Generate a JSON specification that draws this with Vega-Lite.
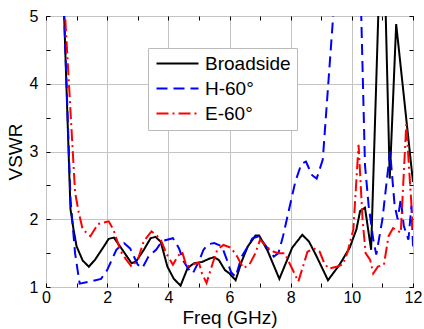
{
  "$schema": "https://vega.github.io/schema/vega-lite/v6.json",
  "width": 367,
  "height": 271,
  "autosize": {"type": "none"},
  "padding": {"left": 46, "top": 16, "right": 11, "bottom": 42},
  "background": "white",
  "config": {
    "view": {"stroke": "#000000", "strokeWidth": 1},
    "font": "Liberation Sans",
    "axis": {"labelFont": "Liberation Sans", "titleFont": "Liberation Sans", "labelColor": "#000", "titleColor": "#000", "titleFontWeight": "normal", "domain": false, "tickColor": "#000"},
    "legend": {"labelFont": "Liberation Sans"}
  },
  "data": {"values": [
    {"s":"Broadside","f":0.55,"v":5.6},{"s":"Broadside","f":0.8,"v":2.15},{"s":"Broadside","f":0.9,"v":1.85},{"s":"Broadside","f":1.0,"v":1.6},{"s":"Broadside","f":1.2,"v":1.39},{"s":"Broadside","f":1.4,"v":1.3},{"s":"Broadside","f":1.6,"v":1.4},{"s":"Broadside","f":1.85,"v":1.57},{"s":"Broadside","f":2.05,"v":1.71},{"s":"Broadside","f":2.22,"v":1.73},{"s":"Broadside","f":2.45,"v":1.58},{"s":"Broadside","f":2.8,"v":1.35},{"s":"Broadside","f":2.95,"v":1.38},{"s":"Broadside","f":3.2,"v":1.55},{"s":"Broadside","f":3.42,"v":1.72},{"s":"Broadside","f":3.58,"v":1.74},{"s":"Broadside","f":3.75,"v":1.67},{"s":"Broadside","f":3.97,"v":1.3},{"s":"Broadside","f":4.18,"v":1.12},{"s":"Broadside","f":4.4,"v":1.02},{"s":"Broadside","f":4.63,"v":1.28},{"s":"Broadside","f":4.84,"v":1.35},{"s":"Broadside","f":5.1,"v":1.37},{"s":"Broadside","f":5.35,"v":1.42},{"s":"Broadside","f":5.5,"v":1.44},{"s":"Broadside","f":5.65,"v":1.4},{"s":"Broadside","f":5.85,"v":1.25},{"s":"Broadside","f":6.0,"v":1.2},{"s":"Broadside","f":6.2,"v":1.1},{"s":"Broadside","f":6.4,"v":1.38},{"s":"Broadside","f":6.6,"v":1.6},{"s":"Broadside","f":6.85,"v":1.76},{"s":"Broadside","f":6.97,"v":1.76},{"s":"Broadside","f":7.25,"v":1.53},{"s":"Broadside","f":7.63,"v":1.12},{"s":"Broadside","f":8.05,"v":1.58},{"s":"Broadside","f":8.38,"v":1.77},{"s":"Broadside","f":8.6,"v":1.67},{"s":"Broadside","f":8.85,"v":1.45},{"s":"Broadside","f":9.22,"v":1.1},{"s":"Broadside","f":9.6,"v":1.33},{"s":"Broadside","f":9.93,"v":1.58},{"s":"Broadside","f":10.15,"v":1.85},{"s":"Broadside","f":10.27,"v":2.12},{"s":"Broadside","f":10.43,"v":2.17},{"s":"Broadside","f":10.63,"v":1.55},{"s":"Broadside","f":11.0,"v":7.0},{"s":"Broadside","f":11.24,"v":2.6},{"s":"Broadside","f":11.45,"v":4.88},{"s":"Broadside","f":12.0,"v":2.55},
    {"s":"H-60°","f":0.55,"v":5.6},{"s":"H-60°","f":0.8,"v":2.3},{"s":"H-60°","f":0.95,"v":1.5},{"s":"H-60°","f":1.1,"v":1.05},{"s":"H-60°","f":1.45,"v":1.08},{"s":"H-60°","f":1.8,"v":1.12},{"s":"H-60°","f":2.0,"v":1.25},{"s":"H-60°","f":2.3,"v":1.55},{"s":"H-60°","f":2.55,"v":1.65},{"s":"H-60°","f":2.75,"v":1.57},{"s":"H-60°","f":3.0,"v":1.33},{"s":"H-60°","f":3.15,"v":1.28},{"s":"H-60°","f":3.35,"v":1.45},{"s":"H-60°","f":3.6,"v":1.55},{"s":"H-60°","f":3.8,"v":1.68},{"s":"H-60°","f":4.15,"v":1.72},{"s":"H-60°","f":4.35,"v":1.57},{"s":"H-60°","f":4.5,"v":1.38},{"s":"H-60°","f":4.65,"v":1.27},{"s":"H-60°","f":4.8,"v":1.2},{"s":"H-60°","f":5.0,"v":1.38},{"s":"H-60°","f":5.15,"v":1.55},{"s":"H-60°","f":5.3,"v":1.63},{"s":"H-60°","f":5.5,"v":1.65},{"s":"H-60°","f":5.75,"v":1.6},{"s":"H-60°","f":5.9,"v":1.42},{"s":"H-60°","f":6.05,"v":1.22},{"s":"H-60°","f":6.2,"v":1.15},{"s":"H-60°","f":6.4,"v":1.45},{"s":"H-60°","f":6.6,"v":1.6},{"s":"H-60°","f":6.75,"v":1.72},{"s":"H-60°","f":6.95,"v":1.75},{"s":"H-60°","f":7.2,"v":1.6},{"s":"H-60°","f":7.45,"v":1.45},{"s":"H-60°","f":7.6,"v":1.5},{"s":"H-60°","f":7.75,"v":1.75},{"s":"H-60°","f":7.95,"v":2.15},{"s":"H-60°","f":8.15,"v":2.55},{"s":"H-60°","f":8.35,"v":2.82},{"s":"H-60°","f":8.5,"v":2.85},{"s":"H-60°","f":8.7,"v":2.65},{"s":"H-60°","f":8.85,"v":2.6},{"s":"H-60°","f":9.05,"v":2.88},{"s":"H-60°","f":9.39,"v":5.0},{"s":"H-60°","f":10.07,"v":9.3},{"s":"H-60°","f":10.43,"v":2.8},{"s":"H-60°","f":10.55,"v":2.2},{"s":"H-60°","f":10.7,"v":1.7},{"s":"H-60°","f":10.8,"v":1.48},{"s":"H-60°","f":11.0,"v":2.0},{"s":"H-60°","f":11.15,"v":2.6},{"s":"H-60°","f":11.25,"v":3.0},{"s":"H-60°","f":11.4,"v":2.2},{"s":"H-60°","f":11.5,"v":2.0},{"s":"H-60°","f":11.6,"v":2.3},{"s":"H-60°","f":11.7,"v":1.9},{"s":"H-60°","f":11.85,"v":1.7},{"s":"H-60°","f":11.95,"v":2.2},{"s":"H-60°","f":12.0,"v":1.6},
    {"s":"E-60°","f":0.55,"v":5.6},{"s":"E-60°","f":0.95,"v":2.4},{"s":"E-60°","f":1.07,"v":2.1},{"s":"E-60°","f":1.2,"v":1.85},{"s":"E-60°","f":1.45,"v":1.75},{"s":"E-60°","f":1.7,"v":1.93},{"s":"E-60°","f":2.05,"v":1.97},{"s":"E-60°","f":2.2,"v":1.85},{"s":"E-60°","f":2.45,"v":1.52},{"s":"E-60°","f":2.6,"v":1.42},{"s":"E-60°","f":2.8,"v":1.3},{"s":"E-60°","f":3.0,"v":1.4},{"s":"E-60°","f":3.2,"v":1.68},{"s":"E-60°","f":3.45,"v":1.82},{"s":"E-60°","f":3.6,"v":1.77},{"s":"E-60°","f":3.75,"v":1.7},{"s":"E-60°","f":3.95,"v":1.48},{"s":"E-60°","f":4.15,"v":1.33},{"s":"E-60°","f":4.3,"v":1.45},{"s":"E-60°","f":4.45,"v":1.52},{"s":"E-60°","f":4.6,"v":1.3},{"s":"E-60°","f":4.75,"v":1.33},{"s":"E-60°","f":5.0,"v":1.36},{"s":"E-60°","f":5.1,"v":1.2},{"s":"E-60°","f":5.25,"v":1.06},{"s":"E-60°","f":5.45,"v":1.35},{"s":"E-60°","f":5.6,"v":1.55},{"s":"E-60°","f":5.8,"v":1.62},{"s":"E-60°","f":6.05,"v":1.58},{"s":"E-60°","f":6.25,"v":1.45},{"s":"E-60°","f":6.45,"v":1.28},{"s":"E-60°","f":6.65,"v":1.33},{"s":"E-60°","f":6.85,"v":1.5},{"s":"E-60°","f":7.0,"v":1.7},{"s":"E-60°","f":7.25,"v":1.58},{"s":"E-60°","f":7.45,"v":1.52},{"s":"E-60°","f":7.6,"v":1.5},{"s":"E-60°","f":7.8,"v":1.5},{"s":"E-60°","f":8.07,"v":1.25},{"s":"E-60°","f":8.25,"v":1.08},{"s":"E-60°","f":8.4,"v":1.3},{"s":"E-60°","f":8.55,"v":1.52},{"s":"E-60°","f":8.75,"v":1.57},{"s":"E-60°","f":8.95,"v":1.52},{"s":"E-60°","f":9.1,"v":1.35},{"s":"E-60°","f":9.25,"v":1.27},{"s":"E-60°","f":9.5,"v":1.3},{"s":"E-60°","f":9.7,"v":1.33},{"s":"E-60°","f":9.85,"v":1.5},{"s":"E-60°","f":10.05,"v":1.85},{"s":"E-60°","f":10.22,"v":3.1},{"s":"E-60°","f":10.35,"v":2.0},{"s":"E-60°","f":10.45,"v":1.5},{"s":"E-60°","f":10.6,"v":1.4},{"s":"E-60°","f":10.7,"v":1.2},{"s":"E-60°","f":10.85,"v":1.3},{"s":"E-60°","f":11.05,"v":1.33},{"s":"E-60°","f":11.2,"v":1.75},{"s":"E-60°","f":11.35,"v":1.87},{"s":"E-60°","f":11.6,"v":1.8},{"s":"E-60°","f":11.78,"v":3.4},{"s":"E-60°","f":11.95,"v":2.2},{"s":"E-60°","f":12.0,"v":1.85}
  ]},
  "resolve": {"axis": {"x": "independent", "y": "independent"}},
  "layer": [
    {
      "mark": {"type": "line", "clip": true, "strokeWidth": 2},
      "encoding": {
        "x": {"field": "f", "type": "quantitative", "scale": {"domain": [0, 12], "nice": false, "zero": false},
          "axis": {"orient": "bottom", "title": "Freq (GHz)", "titleFontSize": 19, "titlePadding": 3, "values": [0,1,2,3,4,5,6,7,8,9,10,11,12], "labelExpr": "datum.value % 2 == 0 ? datum.label : ''", "labelFontSize": 16, "labelPadding": 6, "tickSize": -4, "labelFlush": false, "grid": true, "gridColor": "#c4c4c4", "gridOpacity": {"condition": {"test": "datum.value % 2 == 0", "value": 1}, "value": 0}}},
        "y": {"field": "v", "type": "quantitative", "scale": {"domain": [1, 5], "nice": false, "zero": false},
          "axis": {"orient": "left", "title": "VSWR", "titleFontSize": 19, "titlePadding": 4, "values": [1,1.5,2,2.5,3,3.5,4,4.5,5], "labelExpr": "datum.value % 1 == 0 ? format(datum.value, 'd') : ''", "labelFontSize": 16, "labelPadding": 12, "tickSize": -4, "labelFlush": false, "grid": true, "gridColor": "#c4c4c4", "gridOpacity": {"condition": {"test": "datum.value % 1 == 0", "value": 1}, "value": 0}}},
        "color": {"field": "s", "type": "nominal", "title": null,
          "scale": {"domain": ["Broadside", "H-60°", "E-60°"], "range": ["#000000", "#0000ff", "#ff0000"]},
          "legend": {"orient": "none", "legendX": 102, "legendY": 32, "symbolType": "M-1,0H5", "symbolSize": 196, "symbolStrokeWidth": 2, "labelFontSize": 19, "labelOffset": 32, "rowPadding": 5, "padding": 6, "strokeColor": "#bbbbbb", "fillColor": "#ffffff", "labelLimit": 200}},
        "strokeDash": {"field": "s", "type": "nominal", "title": null,
          "scale": {"domain": ["Broadside", "H-60°", "E-60°"], "range": [[1, 0], [11, 6], [12, 4, 2, 4]]},
          "legend": {"orient": "none", "legendX": 102, "legendY": 32, "symbolType": "M-1,0H5", "symbolSize": 196, "symbolStrokeWidth": 2, "labelFontSize": 19, "labelOffset": 32, "rowPadding": 5, "padding": 6, "strokeColor": "#bbbbbb", "fillColor": "#ffffff", "labelLimit": 200}}
      }
    },
    {
      "mark": {"type": "line", "strokeOpacity": 0, "clip": true},
      "encoding": {
        "x": {"field": "f", "type": "quantitative", "scale": {"domain": [0, 12], "nice": false, "zero": false},
          "axis": {"orient": "top", "title": null, "labels": false, "grid": false, "values": [0,1,2,3,4,5,6,7,8,9,10,11,12], "tickSize": -4}},
        "y": {"field": "v", "type": "quantitative", "scale": {"domain": [1, 5], "nice": false, "zero": false},
          "axis": {"orient": "right", "title": null, "labels": false, "grid": false, "values": [1,1.5,2,2.5,3,3.5,4,4.5,5], "tickSize": -4}},
        "detail": {"field": "s"}
      }
    }
  ]
}
